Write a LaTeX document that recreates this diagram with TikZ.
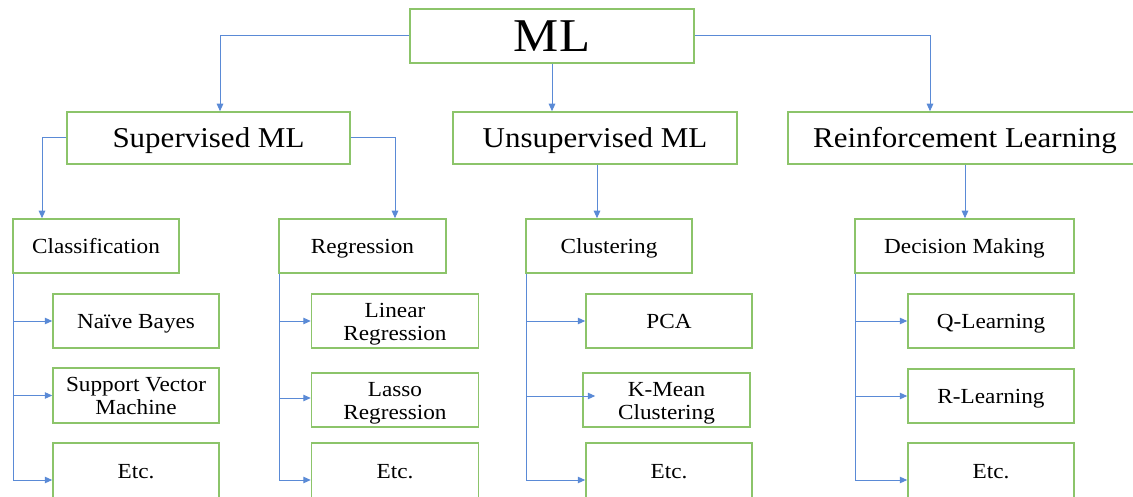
\documentclass[tikz,border=0pt]{standalone}
\usepackage{fontspec}
\setmainfont{Liberation Serif}[FakeStretch=1.08]
\usetikzlibrary{arrows.meta}
\definecolor{boxgreen}{RGB}{140,196,106}
\definecolor{linkblue}{RGB}{90,138,214}
\newcommand{\toppad}{\rule{0pt}{0.96em}}
\tikzset{
 box/.style={draw=boxgreen, line width=1.5pt, inner sep=0pt, align=center, text=black},
 bigtxt/.style={font=\fontsize{47}{50}\selectfont, text height=41.4pt, text depth=10.3pt},
 midtxt/.style={font=\fontsize{28.7}{32}\selectfont, text height=25.3pt, text depth=6.3pt},
 smallone/.style={font=\fontsize{21.5}{23}\selectfont, text height=18.9pt, text depth=4.7pt},
 smalltxt/.style={font=\fontsize{21.5}{23}\selectfont},
 conn/.style={draw=linkblue, line width=1pt, -{Triangle[length=7.5pt,width=6.5pt]}},
}
\begin{document}
\begin{tikzpicture}[x=1pt,y=-1pt]
\useasboundingbox (0,0) rectangle (1133,497);
% level 0
\node[box,bigtxt,minimum width=284,minimum height=54] (ml) at (552,36) {ML};
% level 1
\node[box,midtxt,minimum width=283,minimum height=52] (sup) at (208.5,138) {Supervised ML};
\node[box,midtxt,minimum width=284,minimum height=52] (uns) at (595,138) {Unsupervised ML};
\node[box,midtxt,minimum width=354,minimum height=52] (rl) at (965,138) {Reinforcement Learning};
% level 2
\node[box,smallone,minimum width=166,minimum height=54] (cls) at (96,246) {Classification};
\node[box,smallone,minimum width=167,minimum height=54] (reg) at (362.5,246) {Regression};
\node[box,smallone,minimum width=166,minimum height=54] (clu) at (609,246) {Clustering};
\node[box,smallone,minimum width=219,minimum height=54] (dec) at (964.5,246) {Decision Making};
% level 3
\node[box,smallone,minimum width=166,minimum height=54] (nb) at (136,321) {Naïve Bayes};
\node[box,smalltxt,minimum width=166,minimum height=55] (svm) at (136,395.5) {Support Vector\\Machine};
\node[box,smallone,minimum width=166,minimum height=57] (e1) at (136,471.5) {Etc.};
\node[box,smalltxt,minimum width=167,minimum height=54] (lin) at (395,321) {\toppad Linear\\Regression};
\node[box,smalltxt,minimum width=167,minimum height=54] (las) at (395,400) {\toppad Lasso\\Regression};
\node[box,smallone,minimum width=167,minimum height=57] (e2) at (395,471.5) {Etc.};
\node[box,smallone,minimum width=166,minimum height=54] (pca) at (669,321) {PCA};
\node[box,smalltxt,minimum width=167,minimum height=54] (km) at (666.5,400) {\toppad K-Mean\\Clustering};
\node[box,smallone,minimum width=166,minimum height=57] (e3) at (669,471.5) {Etc.};
\node[box,smallone,minimum width=166,minimum height=54] (ql) at (991,321) {Q-Learning};
\node[box,smallone,minimum width=166,minimum height=54] (rlr) at (991,396) {R-Learning};
\node[box,smallone,minimum width=166,minimum height=57] (e4) at (991,471.5) {Etc.};
% connectors level 0 -> 1
\draw[conn] (ml.west) -| ([xshift=11.5pt]sup.north);
\draw[conn] (ml.south) -- (ml.south |- uns.north);
\draw[conn] (ml.east) -| ([xshift=-35pt]rl.north);
% level 1 -> 2
\draw[conn] (sup.west) -| ([xshift=-54pt]cls.north);
\draw[conn] (sup.east) -| ([xshift=32.5pt]reg.north);
\draw[conn] ([xshift=2pt]uns.south) -- ([xshift=2pt]uns.south |- clu.north);
\draw[conn] (rl.south) -- (rl.south |- dec.north);
% level 2 -> 3
\draw[conn] ([xshift=1pt]cls.south west) |- (nb.west);
\draw[conn] ([xshift=1pt]cls.south west) |- (svm.west);
\draw[conn] ([xshift=1pt]cls.south west) |- ([yshift=-8.5pt]e1.west);
\draw[conn] ([xshift=1pt]reg.south west) |- (lin.west);
\draw[conn] ([xshift=1pt]reg.south west) |- ([yshift=2pt]las.west);
\draw[conn] ([xshift=1pt]reg.south west) |- ([yshift=-8.5pt]e2.west);
\draw[conn] ([xshift=1pt]clu.south west) |- (pca.west);
\draw[conn] ([xshift=1pt]clu.south west) |- ([xshift=13pt,yshift=4pt]km.west);
\draw[conn] ([xshift=1pt]clu.south west) |- ([yshift=-8.5pt]e3.west);
\draw[conn] ([xshift=1pt]dec.south west) |- (ql.west);
\draw[conn] ([xshift=1pt]dec.south west) |- (rlr.west);
\draw[conn] ([xshift=1pt]dec.south west) |- ([yshift=-8.5pt]e4.west);
\end{tikzpicture}
\end{document}
